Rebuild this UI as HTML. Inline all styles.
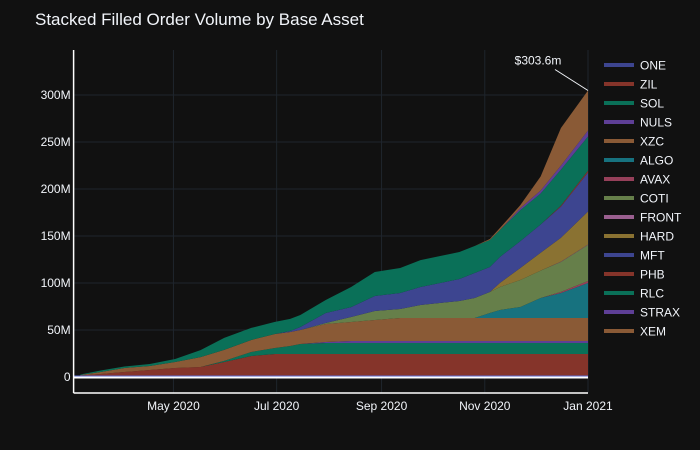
<!DOCTYPE html>
<html><head><meta charset="utf-8">
<style>
body{margin:0;background:#111111;}
svg{display:block;font-family:"Liberation Sans",Arial,sans-serif;}
</style></head>
<body>
<svg id="chart" width="700" height="450">
<rect width="700" height="450" fill="#111111"/>
<text x="35" y="25" fill="#f2f5fa" font-size="17">Stacked Filled Order Volume by Base Asset</text>
<g id="grid"></g>
<g id="areas"></g>
<g id="axes"></g>
<g id="legend"></g>
</svg>
<script>
const dates = ["2020-03-07","2020-03-19","2020-04-02","2020-04-17","2020-05-02","2020-05-17","2020-05-31","2020-06-16","2020-06-30","2020-07-09","2020-07-15","2020-07-30","2020-08-14","2020-08-28","2020-09-12","2020-09-24","2020-10-06","2020-10-17","2020-10-26","2020-11-04","2020-11-10","2020-11-22","2020-12-04","2020-12-16","2021-01-01"];
const seriesNames = ["ONE","ZIL","SOL","NULS","XZC","ALGO","AVAX","COTI","FRONT","HARD","MFT","PHB","RLC","STRAX","XEM"];
const ONE   = [0,0,0,0,0,0,0,0,0,0,0,0,0,0,0,0,0,0,0,0,0,0,0,0,0];
const ZIL   = [1.6,3.2,5.3,7.4,9.6,10.6,16,22.3,24.5,24.5,24.5,24.5,24.5,24.5,24.5,24.5,24.5,24.5,24.5,24.5,24.5,24.5,24.5,24.5,24.5];
const SOL   = [0,0,0,0,0,0,1.1,4.3,6.4,8.5,10.6,11.7,11.7,11.7,11.7,11.7,11.7,11.7,11.7,11.7,11.7,11.7,11.7,11.7,11.7];
const NULS  = [0,0,0,0,0,0,0,0,0,0,0,1.1,2.1,2.1,2.1,2.1,2.1,2.1,2.1,2.1,2.1,2.1,2.1,2.1,2.1];
const XZC   = [0.5,2.1,4.3,4.3,6.4,10.6,11.7,12.8,14.9,14.9,14.9,19.1,20.2,22.3,24.5,24.5,24.5,24.5,24.5,24.5,24.5,24.5,24.5,24.5,24.5];
const ALGO  = [0,0,0,0,0,0,0,0,0,0,0,0,0,0,0,0,0,0,0,5.3,8.5,11.7,21.3,26.6,37.2];
const AVAX  = [0,0,0,0,0,0,0,0,0,0,0,0,0,0,0,0,0,0,0,0,0,0,0,1.1,2.1];
const COTI  = [0,0,0,0,0,0,0,0,0,0,0,1.1,5.3,9.6,9.6,13.8,16,18.1,21.3,22.3,24.5,28.7,29,31.9,38.3];
const FRONT = [0,0,0,0,0,0,0,0,0,0,0,0,0,0,0,0,0,0,0,0,0,0,0,0.3,0.5];
const HARD  = [0,0,0,0,0,0,0,0,0,0,0,0,0,0,0,0,0,0,0,0,4.3,12.8,19.1,25.5,35.1];
const MFT   = [0,0,0,0,0,0,0,0,0,1.1,3.2,10.6,10.6,16,17,19.1,21.3,23.4,26.6,26.6,27.7,28.5,30,33,41.5];
const PHB   = [0,0,0,0,0,0,0,0,0,0,0,0,0,0,0,0,0,0,0,0,0,0,0,1.1,2.1];
const RLC   = [0.5,1.6,1.6,2.1,3.2,7.4,12.8,12.8,12.8,12.8,12.8,13.8,21.3,25.5,26.6,28.7,28.7,28.7,28.7,28.7,28.7,33,33,38.3,36.2];
const STRAX = [0,0,0,0,0,0,0,0,0,0,0,0,0,0,0,0,0,0,0,0,0,2.1,3.2,4.3,6.4];
const XEM   = [0,0,0,0,0,0,0,0,0,0,0,0,0,0,0,0,0,0,0,1.1,2.1,3.2,14.9,40,42.6];
const yTicks = [0,50,100,150,200,250,300];
const yTickLabels = ["0","50M","100M","150M","200M","250M","300M"];
const xTicks = ["2020-05-01","2020-07-01","2020-09-01","2020-11-01","2021-01-01"];
const xTickLabels = ["May 2020","Jul 2020","Sep 2020","Nov 2020","Jan 2021"];
const annotationText = "$303.6m";

const allSeries = [ONE,ZIL,SOL,NULS,XZC,ALGO,AVAX,COTI,FRONT,HARD,MFT,PHB,RLC,STRAX,XEM];
const colors = ["#3d4590","#85342a","#0a7058","#5e3f96","#8a5a36","#17727f","#96405a","#667f4a","#9a5f8f","#8a7232","#3d4590","#85342a","#0a7058","#5e3f96","#8a5a36"];
const NS="http://www.w3.org/2000/svg";
const L=73.6,R=588,T=50,B=393;
const d0=Date.parse("2020-03-03"), d1=Date.parse("2021-01-01");
function xs(d){return L+(Date.parse(d)-d0)/(d1-d0)*(R-L);}
function ys(v){return 377-v*0.94;}
function mk(tag,attrs,parent){const e=document.createElementNS(NS,tag);for(const k in attrs)e.setAttribute(k,attrs[k]);parent.appendChild(e);return e;}
const grid=document.getElementById('grid'),areas=document.getElementById('areas'),axes=document.getElementById('axes'),legend=document.getElementById('legend');
yTicks.forEach((t,i)=>{
  if(t!==0){const g=mk('line',{x1:L,x2:R,y1:ys(t),y2:ys(t),stroke:'#1f252d','stroke-width':1},grid);
  
  }
  const tx=mk('text',{x:L-3,y:ys(t)+4,'text-anchor':'end',fill:'#f2f5fa','font-size':12},axes);
  tx.textContent=yTickLabels[i];
  
  
});
xTicks.forEach((t,i)=>{
  const g=mk('line',{x1:xs(t),x2:xs(t),y1:T,y2:B,stroke:'#1f252d','stroke-width':1},grid);
  
  
  const tx=mk('text',{x:xs(t),y:B+17,'text-anchor':'middle',fill:'#f2f5fa','font-size':12},axes);
  tx.textContent=xTickLabels[i];
  
  
});
let base=dates.map(()=>0);
allSeries.forEach((s,k)=>{
  const top=base.map((b,i)=>b+s[i]);
  let d='M'+xs(dates[0])+','+ys(top[0]);
  for(let i=1;i<dates.length;i++)d+='L'+xs(dates[i])+','+ys(top[i]);
  for(let i=dates.length-1;i>=0;i--)d+='L'+xs(dates[i])+','+ys(base[i]);
  d+='Z';
  const p=mk('path',{d:d,fill:colors[k],stroke:'none'},areas);
  
  
  base=top;
});
const oneLine=mk('line',{x1:L,x2:R,y1:ys(0)-1,y2:ys(0)-1,stroke:'#5a6ad0','stroke-width':1},areas);


const z=mk('line',{x1:L,x2:R,y1:ys(0)+0.5,y2:ys(0)+0.5,stroke:'#ffffff','stroke-width':2},axes);


const ya=mk('line',{x1:L,x2:L,y1:T,y2:B,stroke:'#ffffff','stroke-width':1.5},axes);


const xa=mk('line',{x1:L,x2:R,y1:B,y2:B,stroke:'#ffffff','stroke-width':1.5},axes);


const lastX=xs(dates[dates.length-1]), lastY=ys(base[base.length-1]);
const al=mk('line',{x1:lastX-33,y1:lastY-21,x2:lastX,y2:lastY,stroke:'#f2f5fa','stroke-width':1},axes);


const at=mk('text',{x:lastX-50,y:lastY-26,'text-anchor':'middle',fill:'#f2f5fa','font-size':12},axes);
at.textContent=annotationText;


seriesNames.forEach((n,i)=>{
  const y=65+i*19;
  const sw=mk('rect',{x:604,y:y-2,width:30,height:4,fill:colors[i]},legend);
  
  
  const tx=mk('text',{x:640,y:y+4.5,fill:'#f2f5fa','font-size':12},legend);
  tx.textContent=n;
  
  
});
</script>
</body></html>
